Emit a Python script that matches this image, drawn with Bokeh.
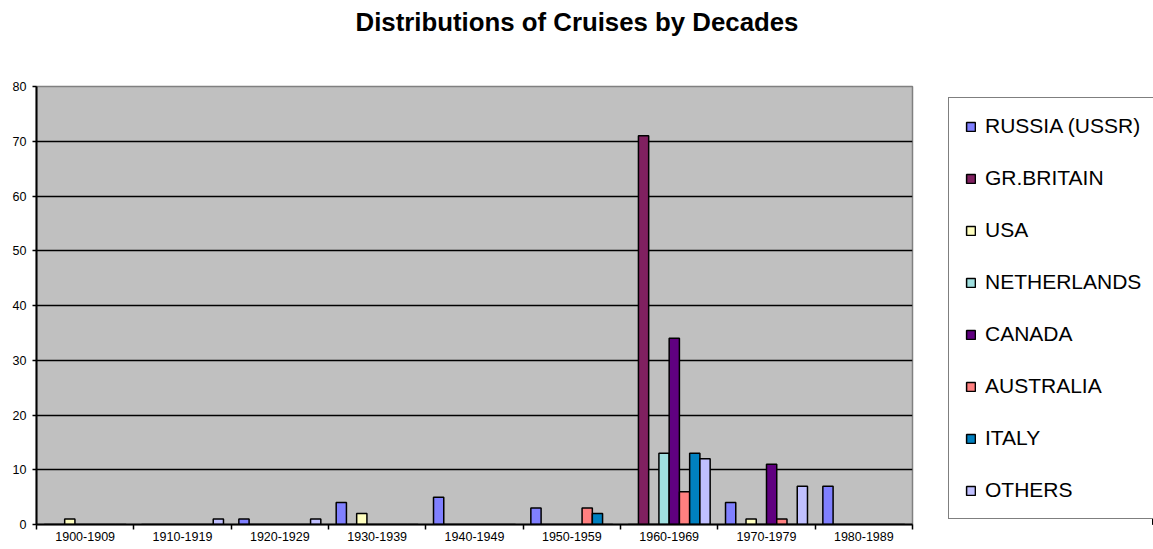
from bokeh.plotting import figure
from bokeh.layouts import row
from bokeh.models import (ColumnDataSource, Range1d, FixedTicker, Legend, LegendItem, Title)
from bokeh.transform import dodge
from bokeh.embed import file_html
from bokeh.resources import INLINE

# ---------------- data ----------------
decades = ["1900-1909", "1910-1919", "1920-1929", "1930-1939", "1940-1949",
           "1950-1959", "1960-1969", "1970-1979", "1980-1989"]
series = ["RUSSIA (USSR)", "GR.BRITAIN", "USA", "NETHERLANDS", "CANADA",
          "AUSTRALIA", "ITALY", "OTHERS"]
russia      = [0, 0, 1, 4, 5, 3, 0, 4, 7]
gr_britain  = [0, 0, 0, 0, 0, 0, 71, 0, 0]
usa         = [1, 0, 0, 2, 0, 0, 0, 1, 0]
netherlands = [0, 0, 0, 0, 0, 0, 13, 0, 0]
canada      = [0, 0, 0, 0, 0, 0, 34, 11, 0]
australia   = [0, 0, 0, 0, 0, 3, 6, 1, 0]
italy       = [0, 0, 0, 0, 0, 2, 13, 0, 0]
others      = [0, 1, 1, 0, 0, 0, 12, 7, 0]
y_ticks = [0, 10, 20, 30, 40, 50, 60, 70, 80]

values = [russia, gr_britain, usa, netherlands, canada, australia, italy, others]
colors = ["#8080FF", "#802060", "#FFFFC0", "#A0E0E0", "#600080",
          "#FF8080", "#0080C0", "#C0C0FF"]

FONT = "Liberation Sans"
nd = len(decades)
idx = list(range(nd))
sources = [ColumnDataSource(dict(idx=idx, decade=decades, count=v)) for v in values]

# ---------------- main chart ----------------
p = figure(width=914, height=549,
           x_range=Range1d(-0.5, nd - 0.5), y_range=Range1d(0, 80),
           output_backend="svg", toolbar_location=None,
           min_border_left=36, min_border_right=2, min_border_top=86,
           min_border_bottom=25)

p.background_fill_color = "#C0C0C0"
p.border_fill_color = "white"
p.outline_line_color = "#808080"
p.outline_line_width = 1.5

# title (+ an empty spacer title between it and the plot area)
p.title.text = "Distributions of Cruises by Decades"
p.title.text_font = FONT
p.title.text_font_size = "25.8px"
p.title.text_font_style = "bold"
p.title.text_color = "black"
p.title.align = "left"
p.title.offset = 319
p.title.standoff = 4
p.add_layout(Title(text=" ", text_font_size="10px", standoff=36), "above")

# bars (clustered: one slot per series inside each decade)
n = len(series)
w = 1.0 / (n + 1.5)
for k, (src, col) in enumerate(zip(sources, colors)):
    p.vbar(x=dodge("idx", (k - (n - 1) / 2) * w),
           top="count", bottom=0, width=w, source=src,
           fill_color=col, line_color="black", line_width=1.5)

# x axis: labels at decade centres, ticks at decade boundaries
xaxis = p.xaxis[0]
xaxis.ticker = FixedTicker(ticks=idx, minor_ticks=[i - 0.5 for i in range(nd + 1)])
xaxis.major_label_overrides = {i: d for i, d in zip(idx, decades)}
xaxis.axis_line_color = "black"
xaxis.axis_line_width = 2
xaxis.major_tick_line_color = None
xaxis.major_tick_out = 5
xaxis.major_tick_in = 0
xaxis.minor_tick_line_color = "black"
xaxis.minor_tick_line_width = 1.5
xaxis.minor_tick_in = 0
xaxis.minor_tick_out = 5
xaxis.major_label_standoff = 2
xaxis.major_label_text_font = FONT
xaxis.major_label_text_font_size = "12.5px"
xaxis.major_label_text_color = "black"

# y axis
yaxis = p.yaxis[0]
yaxis.ticker = FixedTicker(ticks=y_ticks)
yaxis.axis_line_color = "black"
yaxis.axis_line_width = 2
yaxis.major_tick_line_color = "black"
yaxis.major_tick_line_width = 1.5
yaxis.major_tick_in = 0
yaxis.major_tick_out = 4
yaxis.minor_tick_line_color = None
yaxis.major_label_standoff = 6
yaxis.major_label_text_font = FONT
yaxis.major_label_text_font_size = "12.5px"
yaxis.major_label_text_color = "black"

p.ygrid.ticker = FixedTicker(ticks=y_ticks[1:-1])
p.ygrid.grid_line_color = "black"
p.ygrid.grid_line_width = 1.5
p.xgrid.visible = False

# ---------------- legend panel ----------------
# legend keys are bound to the same series sources (their bars lie outside
# this panel's ranges, so only the legend shows)
q = figure(width=239, height=549, x_range=Range1d(-100, -99), y_range=Range1d(0, 80),
           output_backend="svg", toolbar_location=None,
           x_axis_location=None, y_axis_location=None, min_border=0)
q.outline_line_color = None
q.background_fill_color = "white"
q.border_fill_color = "white"
q.grid.visible = False

items = []
for name, src, col in zip(series, sources, colors):
    key = q.vbar(x="idx", top="count", bottom=0, width=w, source=src,
                 fill_color=col, line_color="black", line_width=1.5)
    items.append(LegendItem(label=name, renderers=[key], index=0))

legend = Legend(items=items, location=(34, 5))
legend.border_line_color = "black"
legend.border_line_width = 1.5
legend.background_fill_color = "white"
legend.background_fill_alpha = 1.0
legend.padding = 16
legend.spacing = 28
legend.margin = 0
legend.glyph_width = 11
legend.glyph_height = 11
legend.label_height = 24
legend.label_standoff = 9
legend.label_text_font = FONT
legend.label_text_font_size = "21px"
legend.label_text_color = "black"
q.add_layout(legend)

layout = row(p, q, spacing=0)
open("out.html", "w").write(file_html(layout, INLINE))
